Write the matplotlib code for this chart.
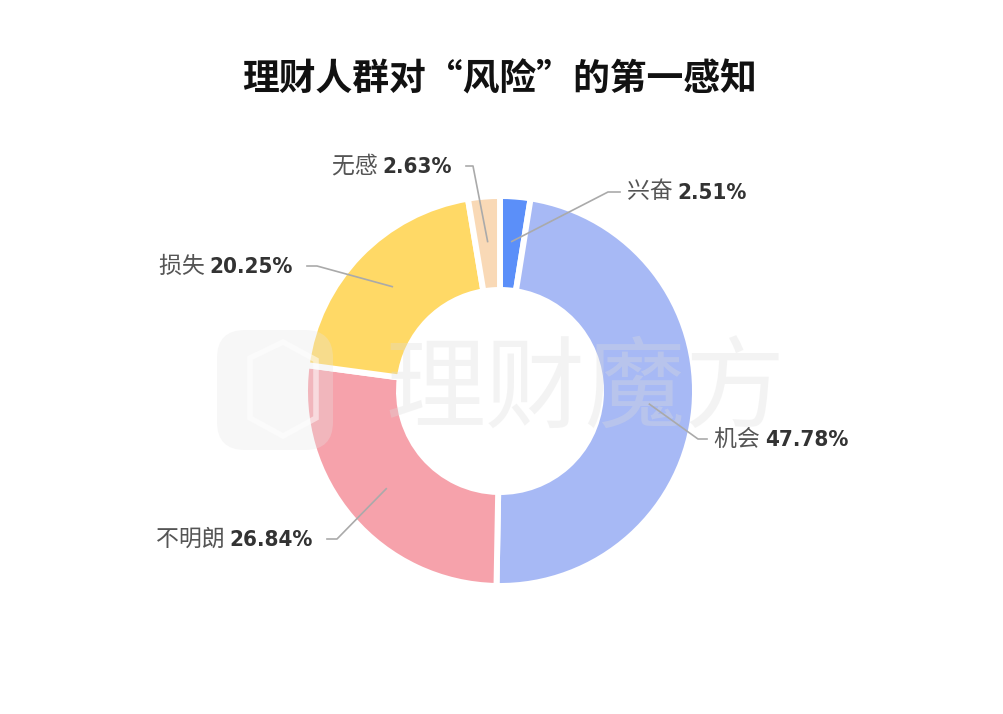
import numpy as np
import matplotlib.pyplot as plt
from matplotlib.patches import FancyBboxPatch, Polygon

# data
names = ["兴奋", "机会", "不明朗", "损失", "无感"]
values = [2.51, 47.78, 26.84, 20.25, 2.63]
colors = ["#5B8FF9", "#A7B9F5", "#F6A2AB", "#FFD966", "#F9D9B6"]

W, H = 1004, 714
fig = plt.figure(figsize=(W / 100, H / 100), dpi=100)
ax = fig.add_axes([0, 0, 1, 1])

cx, cy = 500, H - 391  # donut centre
r_out, r_in = 195, 101

ax.pie(values, colors=colors, startangle=90, counterclock=False,
       radius=r_out, center=(cx, cy), frame=True,
       wedgeprops=dict(width=r_out - r_in, edgecolor="white", linewidth=4.3))
ax.set_xlim(0, W)
ax.set_ylim(0, H)
ax.set_aspect("equal")
ax.axis("off")

# watermark
logo = FancyBboxPatch((217, H - 450), 116, 120, boxstyle="round,pad=0,rounding_size=28",
                      fc="#e6e6e6", ec="none", alpha=0.3, zorder=5)
ax.add_patch(logo)
hexpts = [(250, H - 358), (283, H - 342), (316, H - 360), (316, H - 418),
          (283, H - 436), (250, H - 418)]
ax.add_patch(Polygon(hexpts, closed=True, fill=False, ec="white", lw=4, alpha=0.5, zorder=6))
ax.text(585, H - 392, "理财魔方", fontsize=72, color="#dcdcdc", alpha=0.32,
        ha="center", va="center", family=["Noto Sans CJK SC"], zorder=5)

# title
ax.text(500, H - 80, "理财人群对“风险”的第一感知", fontsize=26.5, fontweight=900,
        color="#111111", ha="center", va="center", family=["Noto Sans CJK SC"])

# leader lines and labels: elbow point, end of horizontal piece
elbows = [(608, 192, 620), (698, 439, 707), (337, 539, 327), (317, 266, 307), (473, 166, 466)]
cum = np.cumsum([0] + values[:-1])
total = sum(values)
numfont = dict(family=["DejaVu Sans"], fontstretch="condensed", fontweight="bold")

fig.canvas.draw()
rend = fig.canvas.get_renderer()
for i, name in enumerate(names):
    mid = cum[i] + values[i] / 2
    ang = np.deg2rad(90 - mid / total * 360)
    ax0, ay0 = cx + 150 * np.cos(ang), cy + 150 * np.sin(ang)
    ex, ey, hx = elbows[i]
    ey = H - ey
    ax.plot([ax0, ex, hx], [ay0, ey, ey], color="#aaaaaa", lw=1.2, zorder=7)
    num = f"{values[i]:.2f}%"
    if hx > ex:
        t1 = ax.text(hx + 7, ey, name + " ", fontsize=16.5, color="#555555", ha="left",
                     va="center", family=["Noto Sans CJK SC"], zorder=8)
        bb = t1.get_window_extent(rend)
        ax.text(bb.x1, ey - 1, num, fontsize=16, color="#333333",
                ha="left", va="center", zorder=8, **numfont)
    else:
        t2 = ax.text(hx - 14, ey - 1, num, fontsize=16, color="#333333",
                     ha="right", va="center", zorder=8, **numfont)
        bb = t2.get_window_extent(rend)
        ax.text(bb.x0, ey, name + " ", fontsize=16.5, color="#555555", ha="right",
                va="center", family=["Noto Sans CJK SC"], zorder=8)

fig.savefig("out.png", dpi=100, facecolor="white")
